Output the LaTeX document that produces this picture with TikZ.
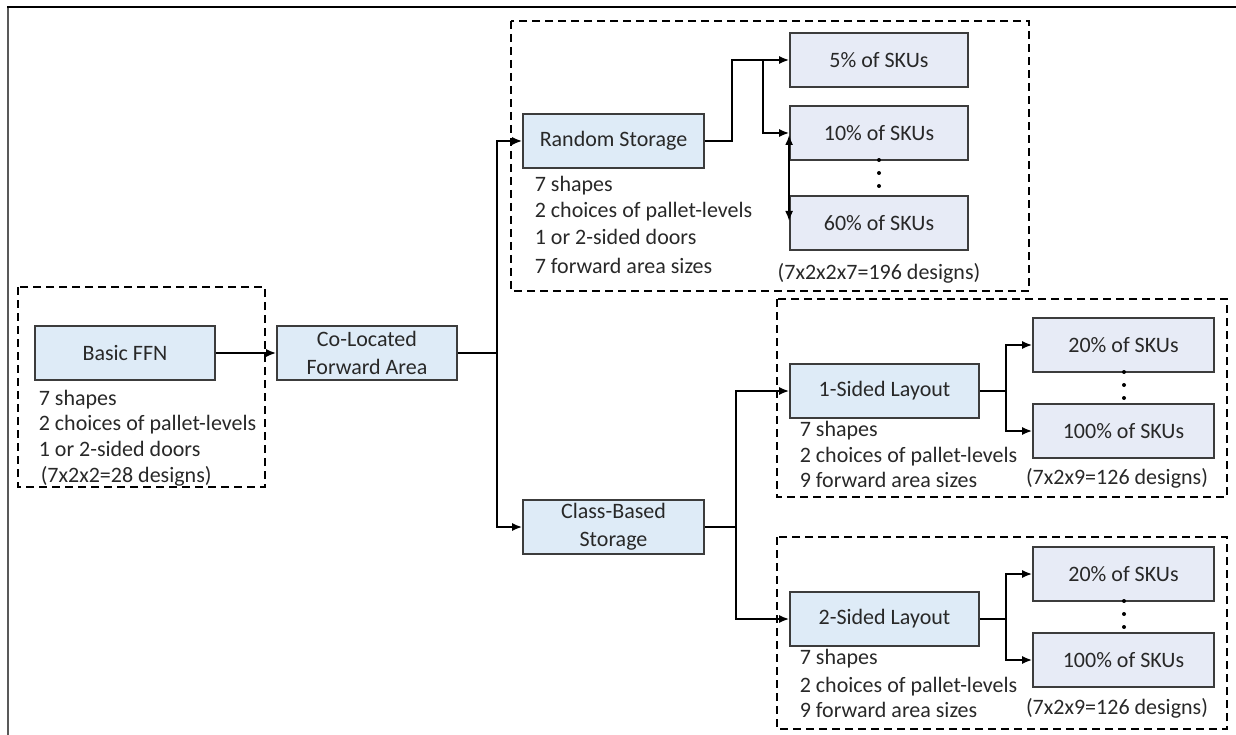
\documentclass[tikz,border=0pt]{standalone}
\usepackage{fontspec}
\setmainfont{Carlito}
\usetikzlibrary{arrows.meta}

\definecolor{boxfill}{RGB}{222,235,247}
\definecolor{pctfill}{RGB}{231,235,246}
\definecolor{boxline}{RGB}{60,60,60}
\definecolor{inktext}{RGB}{40,40,40}

\begin{document}
\begin{tikzpicture}[x=1pt, y=-1pt, line width=1.6pt, line join=miter,
  font=\fontsize{22}{28}\selectfont, text=inktext,
  blk/.style={draw=boxline, line width=1.8pt, fill=boxfill, minimum height=54, inner sep=0pt, align=center},
  pct/.style={blk, fill=pctfill, minimum width=178},
  note/.style={anchor=west, inner sep=0pt, text height=14, text depth=4},
  grp/.style={line width=1.3pt, dash pattern=on 8pt off 5pt},
  arr/.style={-{Latex[length=10pt,width=8pt]}}]

  %% ════ frame (top and left edges only) ════
  \draw[gray!70!black, line width=2pt] (8,735) -- (8,7);
  \draw[line width=1.8pt] (7,7) -- (1236,7);

  %% ════ dashed groups ════
  \draw[grp] (18,287) rectangle (265,487);
  \draw[grp] (511,21) rectangle (1029,291);
  \draw[grp] (777,299) rectangle (1227,497);
  \draw[grp] (777,537) rectangle (1227,729);

  %% ════ main boxes ════
  \node[blk, minimum width=180] (basic)  at (125,353)   {Basic FFN};
  \node[blk, minimum width=180] (coloc)  at (367,353)   {Co-Located\\Forward Area};
  \node[blk, minimum width=181] (random) at (613.5,141) {Random Storage};
  \node[blk, minimum width=181] (classb) at (613.5,527) {Class-Based\\Storage};
  \node[blk, minimum width=189] (one)    at (884.5,391) {1-Sided Layout};
  \node[blk, minimum width=189] (two)    at (884.5,619) {2-Sided Layout};

  %% ════ forward area sizes ════
  \node[pct] (r5)   at (879,60)  {5\% of SKUs};
  \node[pct] (r10)  at (879,133) {10\% of SKUs};
  \node[pct] (r60)  at (879,223) {60\% of SKUs};
  \node[pct, minimum width=181] (o20)  at (1123.5,345) {20\% of SKUs};
  \node[pct, minimum width=181] (o100) at (1123.5,431) {100\% of SKUs};
  \node[pct, minimum width=181] (t20)  at (1123.5,574) {20\% of SKUs};
  \node[pct, minimum width=181] (t100) at (1123.5,660) {100\% of SKUs};

  %% ════ vertical dots ════
  \fill (879,160) circle (2);    \fill (879,173) circle (2);    \fill (879,186) circle (2);
  \fill (1124,372) circle (2);   \fill (1124,385) circle (2);   \fill (1124,398) circle (2);
  \fill (1124,601) circle (2);   \fill (1124,614) circle (2);   \fill (1124,627) circle (2);

  %% ════ notes ════
  \node[note] (bn1) at (38,400) {7 shapes};
  \node[note] (bn2) at (38,425) {2 choices of pallet-levels};
  \node[note] (bn3) at (38,451) {1 or 2-sided doors};
  \node[note] (bn4) at (40,477) {(7x2x2=28 designs)};

  \node[note] (rn1) at (534,187) {7 shapes};
  \node[note] (rn2) at (534,213) {2 choices of pallet-levels};
  \node[note] (rn3) at (534,240) {1 or 2-sided doors};
  \node[note] (rn4) at (534,268) {7 forward area sizes};
  \node[anchor=center, inner sep=0pt] (rsum) at (879,273) {(7x2x2x7=196 designs)};

  \node[note] (on1) at (799,431) {7 shapes};
  \node[note] (on2) at (799,457) {2 choices of pallet-levels};
  \node[note] (on3) at (799,482) {9 forward area sizes};
  \node[anchor=center, inner sep=0pt] (osum) at (1117,478) {(7x2x9=126 designs)};

  \node[note] (tn1) at (799,659) {7 shapes};
  \node[note] (tn2) at (799,687) {2 choices of pallet-levels};
  \node[note] (tn3) at (799,712) {9 forward area sizes};
  \node[anchor=center, inner sep=0pt] (tsum) at (1117,708) {(7x2x9=126 designs)};

  %% ════ connectors ════
  \coordinate (j1) at (497,353);
  \coordinate (j2) at (732,141);
  \coordinate (j3) at (763,60);
  \coordinate (j4) at (736,527);
  \coordinate (j5) at (1006,391);
  \coordinate (j6) at (1006,619);

  \draw[arr] (basic) -- (coloc);
  \draw[arr] (coloc.east) -- (j1) |- (random.west);
  \draw[arr] (j1) |- (classb.west);

  \draw[arr] (random.east) -- (j2) |- (r5.west);
  \draw[arr] (j3) |- (r10.west);
  \draw[{Latex[length=10pt,width=8pt]}-{Latex[length=10pt,width=8pt]}] ([yshift=-2pt]r10.west) -- ([yshift=2pt]r60.west);

  \draw[arr] (classb.east) -- (j4) |- (one.west);
  \draw[arr] (j4) |- (two.west);

  \draw[arr] (one.east) -- (j5) |- (o20.west);
  \draw[arr] (j5) |- (o100.west);
  \draw[arr] (two.east) -- (j6) |- (t20.west);
  \draw[arr] (j6) |- (t100.west);

  \pgfresetboundingbox
  \path[use as bounding box] (0,0) rectangle (1236,735);
\end{tikzpicture}
\end{document}
